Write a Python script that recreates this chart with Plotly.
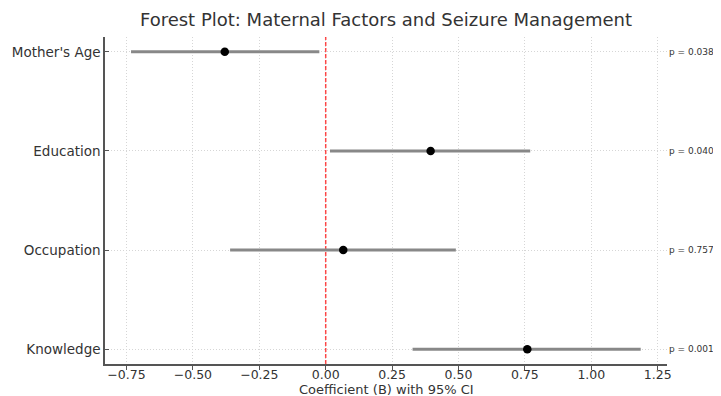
import plotly.graph_objects as go

factors = ["Mother's Age", "Education", "Occupation", "Knowledge"]
coef = [-0.38, 0.395, 0.066, 0.759]
ci_low = [-0.733, 0.016, -0.36, 0.327]
ci_high = [-0.024, 0.77, 0.49, 1.186]
p_labels = ["p = 0.038", "p = 0.040", "p = 0.757", "p = 0.001"]
ypos = [3, 2, 1, 0]
xtick_vals = [-0.75, -0.5, -0.25, 0, 0.25, 0.5, 0.75, 1.0, 1.25]
xtick_text = ["\u22120.75", "\u22120.50", "\u22120.25", "0.00", "0.25", "0.50", "0.75", "1.00", "1.25"]

FONT = "DejaVu Sans"
fig = go.Figure()

# red dashed zero line
fig.add_trace(go.Scatter(x=[0, 0], y=[-0.15, 3.15], mode="lines",
                         line=dict(color="rgba(255,0,0,0.7)", width=1.5, dash="4px,2px"),
                         hoverinfo="skip", showlegend=False))

for i in range(len(factors)):
    fig.add_trace(go.Scatter(x=[ci_low[i], ci_high[i]], y=[ypos[i], ypos[i]], mode="lines",
                             line=dict(color="#888888", width=3), showlegend=False))

fig.add_trace(go.Scatter(x=coef, y=ypos, mode="markers",
                         marker=dict(color="black", size=8.5), showlegend=False))

for i in range(len(factors)):
    fig.add_annotation(x=0.0, y=ypos[i], xref="x domain", yref="y", text=p_labels[i],
                       showarrow=False, xanchor="left", yanchor="middle", xshift=562,
                       font=dict(family=FONT, size=9, color="#333333"))

# x-axis title as annotation (placed just below tick labels)
fig.add_annotation(x=0.5, y=-0.0765, xref="x domain", yref="paper",
                   text="Coefficient (B) with 95% CI", showarrow=False,
                   xanchor="center", yanchor="middle",
                   font=dict(family=FONT, size=13, color="#333333"))

fig.update_layout(
    width=721, height=396,
    margin=dict(l=97, r=62, t=29, b=40, autoexpand=False),
    paper_bgcolor="white", plot_bgcolor="white",
    title=dict(text="Forest Plot: Maternal Factors and Seizure Management",
               x=0.5243, xanchor="center", y=0.97, yanchor="middle",
               font=dict(family=FONT, size=18, color="#333333")),
    font=dict(family=FONT, color="#333333"),
)
fig.update_xaxes(range=[-0.831, 1.285], tickvals=xtick_vals, ticktext=xtick_text,
                 showgrid=True, gridcolor="#d6d6d6", griddash="1px,2px", gridwidth=1,
                 zeroline=False, showline=True, linecolor="#555555", linewidth=1.5,
                 ticks="outside", ticklen=4, tickcolor="#555555", automargin=False,
                 ticklabelstandoff=-6,
                 tickfont=dict(family=FONT, size=12.5, color="#333333"))
fig.update_yaxes(range=[-0.15, 3.15], tickvals=ypos, ticktext=factors,
                 showgrid=True, gridcolor="#d6d6d6", griddash="1px,2px", gridwidth=1,
                 zeroline=False, showline=True, linecolor="#555555", linewidth=1.5,
                 ticks="inside", ticklen=4, tickcolor="#555555", automargin=False,
                 tickfont=dict(family=FONT, size=13.5, color="#333333"))

fig.write_html("out.html")
